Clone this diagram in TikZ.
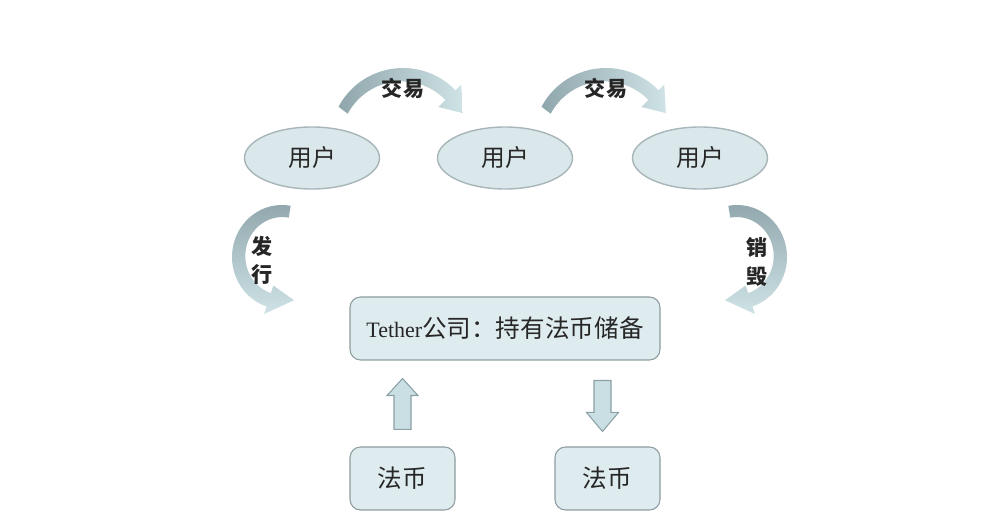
\documentclass[tikz,border=0pt]{standalone}
\usepackage{fontspec}
\setmainfont{Liberation Serif}
\newfontfamily\cjk{Noto Sans CJK SC}
\usetikzlibrary{
	arrows.meta,
	positioning,
	shapes.geometric,
	calc
}
\definecolor{userfill}{HTML}{DBE8EB}
\definecolor{useredge}{HTML}{A8B6BA}
\definecolor{boxfill}{HTML}{DFECEF}
\definecolor{boxedge}{HTML}{8D9CA0}
\definecolor{banddark}{HTML}{8FA6AC}
\definecolor{bandlight}{HTML}{CFE3E6}
\definecolor{blockfill}{HTML}{C9DFE3}
\definecolor{blockedge}{HTML}{8AA0A5}
\definecolor{ink}{HTML}{262626}

\begin{document}
\begin{tikzpicture}[
			font=\cjk\fontsize{13.5}{16}\selectfont,
			text=ink,
			usuario/.style={ellipse, draw=useredge, line width=0.8pt, fill=userfill, minimum width=2.7cm, minimum height=1.24cm},
			caixa/.style={draw=boxedge, line width=0.6pt, fill=boxfill, rounded corners=6pt, align=center},
			reserva/.style={caixa, minimum width=6.2cm, minimum height=1.26cm, font=\fontsize{14}{16}\selectfont},
			moeda/.style={caixa, minimum width=2.1cm, minimum height=1.26cm, font=\cjk\fontsize{14}{16}\selectfont},
			rot/.style={font=\cjk\bfseries\fontsize{12}{16}\selectfont, align=center, inner sep=1pt},
			bloco/.style={draw=blockedge, line width=0.6pt, fill=blockfill, line join=miter}
		]
		\useasboundingbox (0,0) rectangle (20,-10.46);

		\node[usuario] (user1) at (6.24,-3.16) {用户};
		\node[usuario] (user2) at (10.1,-3.16) {用户};
		\node[usuario] (user3) at (14.0,-3.16) {用户};
		\node[reserva] (reserve) at (10.1,-6.57) {{\rmfamily\fontsize{12.5}{16}\selectfont Tether}{\cjk 公司：持有法币储备}};
		\node[moeda] (fiat1) at (8.05,-9.57) {法币};
		\node[moeda] (fiat2) at (12.15,-9.57) {法币};

		% centros das setas curvas
		\coordinate (tradeA) at (8.06,-2.82);
		\coordinate (tradeB) at (12.12,-2.82);
		\coordinate (issue) at (5.64,-5.14);
		\coordinate (burn) at (14.74,-5.14);

		\foreach \c in {tradeA,tradeB}{
			\shade[left color=banddark, right color=bandlight]
				($(\c)+(152:1.46)$) arc[start angle=152, end angle=44, radius=1.46]
				-- ($(\c)+(44:1.62)$) -- ($(\c)+(25:1.32)$) -- ($(\c)+(44:0.98)$)
				-- ($(\c)+(44:1.18)$) arc[start angle=44, end angle=152, radius=1.22] -- cycle;
			\node[rot] at ($(\c)+(0,1.06)$) {交易};
		}

		\shade[top color=banddark, bottom color=bandlight]
			($(issue)+(80:1.0 and 1.04)$) arc[start angle=80, end angle=252, x radius=1.0, y radius=1.04]
			-- ($(issue)+(252:1.16 and 1.2)$) -- ($(issue)+(286:0.87 and 0.9)$) -- ($(issue)+(252:0.56 and 0.6)$)
			-- ($(issue)+(252:0.72 and 0.76)$) arc[start angle=252, end angle=80, x radius=0.74, y radius=0.78] -- cycle;
		\node[rot] at (5.24,-5.2) {发\\行};

		\shade[top color=banddark, bottom color=bandlight]
			($(burn)+(100:1.0 and 1.04)$) arc[start angle=100, end angle=-72, x radius=1.0, y radius=1.04]
			-- ($(burn)+(-72:1.16 and 1.2)$) -- ($(burn)+(-106:0.87 and 0.9)$) -- ($(burn)+(-72:0.56 and 0.6)$)
			-- ($(burn)+(-72:0.72 and 0.76)$) arc[start angle=-72, end angle=100, x radius=0.74, y radius=0.78] -- cycle;
		\node[rot] at (15.14,-5.24) {销\\毁};

		\draw[bloco] let \p1=(fiat1.north), \p2=(reserve.south) in
			(\x1-0.17cm,\y1+0.34cm) -- (\x1-0.17cm,\y2-0.7cm) -- (\x1-0.31cm,\y2-0.7cm) -- (\x1,\y2-0.36cm)
			-- (\x1+0.31cm,\y2-0.7cm) -- (\x1+0.17cm,\y2-0.7cm) -- (\x1+0.17cm,\y1+0.34cm) -- cycle;
		\draw[bloco] let \p1=(reserve.south), \p2=($(fiat2.north)+(-0.1,0)$) in
			(\x2-0.17cm,\y1-0.4cm) -- (\x2-0.17cm,\y2+0.68cm) -- (\x2-0.32cm,\y2+0.68cm) -- (\x2,\y2+0.3cm)
			-- (\x2+0.32cm,\y2+0.68cm) -- (\x2+0.17cm,\y2+0.68cm) -- (\x2+0.17cm,\y1-0.4cm) -- cycle;
	\end{tikzpicture}
\end{document}
